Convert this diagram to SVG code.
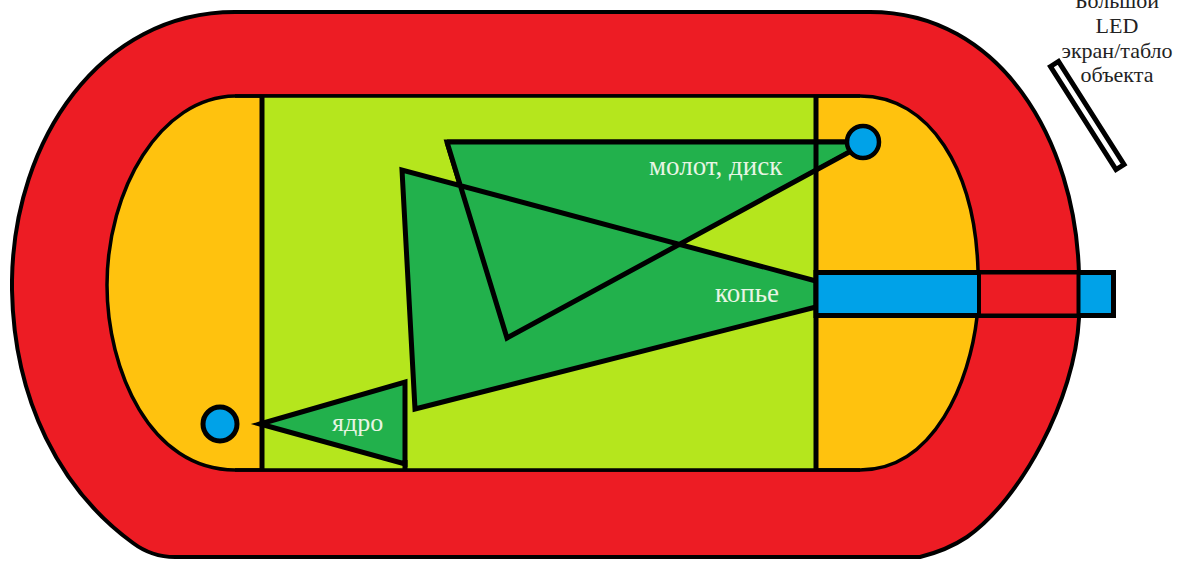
<svg xmlns="http://www.w3.org/2000/svg" width="1177" height="561" viewBox="0 0 1177 561">
<style>
.k{stroke:#000;stroke-linejoin:miter;stroke-linecap:butt}
.l{font-family:"Liberation Serif","Times New Roman",serif;font-size:27px;fill:#e8f5e4}
.c{font-family:"Liberation Serif","Times New Roman",serif;font-size:22px;fill:#222;text-anchor:middle}
</style>
<rect width="1177" height="561" fill="#fff"/>
<g id="track">
<path class="k" fill="#ed1c24" stroke-width="4" d="M235,12 L870,12 C1000,12 1076,140 1079,275 L1079,318 C1075,400 1020,500 967,537 C955,545 940,552 920,557 L175,557 C160,557 145,552 133,543 C60,490 14,400 12,290 L12,280 C14,140 100,12 235,12 Z"/>
</g>
<g id="segments">
<path class="k" fill="#ffc20e" stroke-width="3.500" d="M235,96 L860,96 C930,96 975,170 978,270 L977,317 C970,380 935,470 860,470 L235,470 C150,470 107,370 107,285 C107,190 160,97 235,96 Z"/>
</g>
<g id="field">
<rect x="262" y="96" width="554" height="374" fill="#b5e61d"/>
<path d="M235,96 H860 M235,470 H860" class="k" stroke-width="3.500" fill="none"/>
</g>
<g id="hammer-sector">
<polygon class="k" fill="#22b14c" stroke-width="5" points="447,142 863,142 507,338"/>
</g>
<g id="javelin-sector">
<polygon fill="#22b14c" points="402,170 816,280 816,307 415,409"/>
<polygon fill="#22b14c" points="447,142 863,142 507,338"/>
<path class="k" fill="none" stroke-width="5" d="M816,281 L402,170 L415,409 L816,307 M447,142 L507,338 L853,150 M447,142 H860"/>
</g>
<g id="shot-sector">
<polygon class="k" fill="#22b14c" stroke-width="5" points="260,424 405,382 405,464"/>
<path class="k" fill="none" stroke-width="5" d="M405,460 V469"/>
</g>
<g id="lines">
<path class="k" fill="none" stroke-width="5" d="M262,96 V470 M816,96 V470"/>
</g>
<g id="runway">
<rect class="k" x="816" y="272.500" width="297.500" height="43" fill="#00a2e8" stroke-width="5"/>
<rect class="k" x="979" y="272.500" width="99.500" height="43" fill="#ed1c24" stroke-width="4"/>
</g>
<g id="circle-hammer"><circle class="k" cx="863" cy="142" r="16" fill="#00a2e8" stroke-width="4.500"/></g>
<g id="circle-shot"><circle class="k" cx="220" cy="424" r="17" fill="#00a2e8" stroke-width="5"/></g>
<g id="screen"><polygon class="k" fill="#fff" stroke-width="5" points="1050.500,66.500 1058.500,61.500 1124,164.500 1116,169.500"/></g>
<g id="labels">
<text class="l" x="649" y="175">молот, диск</text>
<text class="l" x="715" y="302">копье</text>
<text class="l" x="332" y="431" style="font-size:26px">ядро</text>
<text class="c" x="1117" y="8">Большой</text>
<text class="c" x="1117" y="33">LED</text>
<text class="c" x="1117" y="58">экран/табло</text>
<text class="c" x="1117" y="82">объекта</text>
</g>
</svg>
